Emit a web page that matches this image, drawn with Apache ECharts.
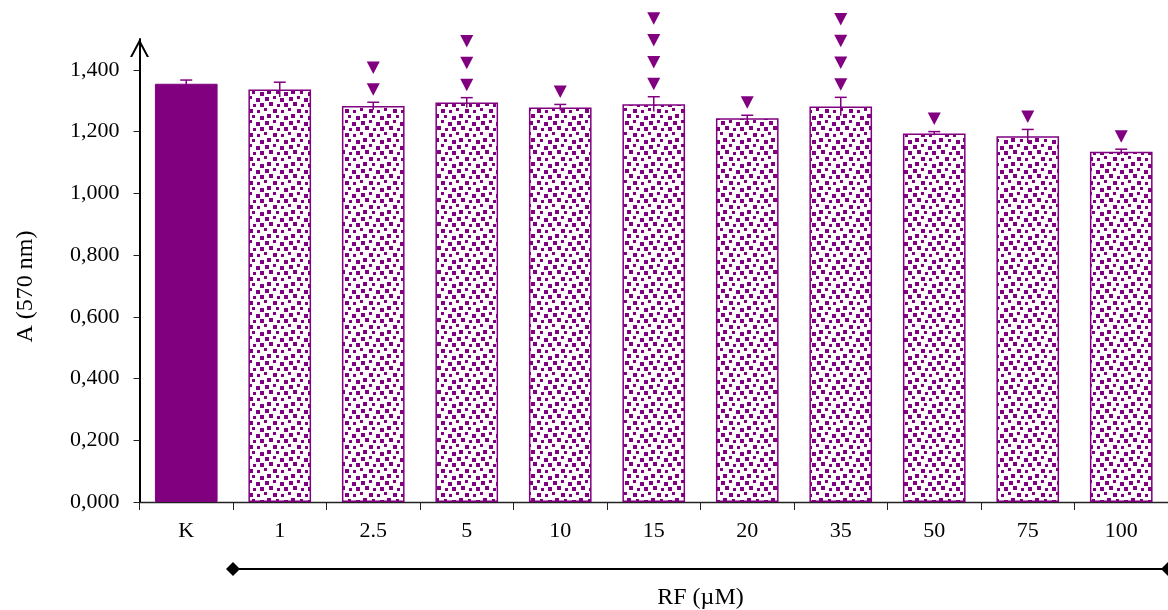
<!DOCTYPE html>
<html>
<head>
<meta charset="utf-8">
<script src="https://cdn.jsdelivr.net/npm/echarts@6/dist/echarts.min.js"></script>
<style>
html,body{margin:0;padding:0;background:#fff;}
#chart{width:1168px;height:610px;}
</style>
</head>
<body>
<div id="chart"></div>
<script>
// ---- data ----
var categories = ['K', '1', '2.5', '5', '10', '15', '20', '35', '50', '75', '100'];
var values = [1.355, 1.336, 1.283, 1.294, 1.278, 1.289, 1.243, 1.281, 1.194, 1.185, 1.135];
var errors = [0.012, 0.024, 0.012, 0.016, 0.010, 0.024, 0.010, 0.030, 0.006, 0.022, 0.008];
var markCounts = [0, 0, 2, 3, 1, 4, 1, 4, 1, 1, 1];
var yTicks = [0, 0.2, 0.4, 0.6, 0.8, 1.0, 1.2, 1.4];
var yAxisName = 'A (570 nm)';
var xAxisName = 'RF (\u00B5M)';

var PURPLE = '#800080';
var FONT = '"Liberation Serif", "Times New Roman", serif';

// confetti pattern tile
function makePattern() {
  var c = document.createElement('canvas');
  c.width = 24; c.height = 24;
  var g = c.getContext('2d');
  g.fillStyle = '#fff';
  g.fillRect(0, 0, 24, 24);
  g.fillStyle = PURPLE;
  var sq = [[1, 1, 4], [9, 0, 3], [16, 2, 4], [5, 6, 4], [13, 8, 3], [20, 7, 4],
            [0, 12, 3], [9, 13, 4], [17, 14, 3], [3, 18, 4], [12, 19, 3], [20, 20, 4]];
  sq.forEach(function (s) { g.fillRect(s[0], s[1], s[2], s[2]); });
  return c;
}
var pattern = { image: makePattern(), repeat: 'repeat' };

var barData = values.map(function (v, i) {
  return {
    value: v,
    itemStyle: i === 0
      ? { color: PURPLE, borderColor: PURPLE, borderWidth: 1 }
      : { color: pattern, borderColor: PURPLE, borderWidth: 1.5 }
  };
});
var errData = values.map(function (v, i) { return [i, v, errors[i], markCounts[i]]; });

var chart = echarts.init(document.getElementById('chart'), null, { renderer: 'canvas' });
chart.setOption({
  animation: false,
  backgroundColor: '#fff',
  grid: { left: 139.5, right: -4.5, top: 39, bottom: 108, containLabel: false },
  xAxis: {
    type: 'category',
    data: categories,
    axisLine: { lineStyle: { color: '#222', width: 1.3 } },
    axisTick: { show: true, interval: 0, length: 8, alignWithLabel: false, lineStyle: { color: '#222', width: 1 } },
    axisLabel: { interval: 0, margin: 18, color: '#000', fontFamily: FONT, fontSize: 22 },
    splitLine: { show: false }
  },
  yAxis: {
    type: 'value',
    min: 0,
    max: 1.5,
    interval: 0.2,
    name: yAxisName,
    nameLocation: 'middle',
    nameGap: 102,
    nameTextStyle: { color: '#000', fontFamily: FONT, fontSize: 24, padding: [0, 32, 0, 0] },
    axisLine: {
      show: true,
      lineStyle: { color: '#000', width: 2 },
      symbol: ['none', 'path://M0,18 L9.5,0 L19,18 L16.8,18 L9.5,4.2 L2.2,18 Z'],
      symbolSize: [19, 18],
      symbolOffset: [0, -9]
    },
    axisTick: { show: true, length: 6, customValues: yTicks, lineStyle: { color: '#222', width: 1 } },
    axisLabel: {
      margin: 20, color: '#000', fontFamily: FONT, fontSize: 22,
      customValues: yTicks,
      formatter: function (v) { return v.toFixed(3).replace('.', ','); }
    },
    splitLine: { show: false }
  },
  series: [
    {
      type: 'bar',
      data: barData,
      barWidth: '67%',
      silent: true
    },
    {
      type: 'custom',
      data: errData,
      silent: true,
      z: 5,
      encode: { x: 0, y: 1 },
      renderItem: function (params, api) {
        var i = api.value(0), v = api.value(1), e = api.value(2), n = api.value(3);
        var top = api.coord([i, v + e]);
        var bot = api.coord([i, v - e]);
        var children = [
          { type: 'line', shape: { x1: top[0], y1: top[1], x2: bot[0], y2: bot[1] }, style: { stroke: PURPLE, lineWidth: 1.5 } },
          { type: 'line', shape: { x1: top[0] - 6, y1: top[1], x2: top[0] + 6, y2: top[1] }, style: { stroke: PURPLE, lineWidth: 1.5 } }
        ];
        for (var k = 0; k < n; k++) {
          var cy = top[1] - 13 - 21.8 * k;
          children.push({
            type: 'polygon',
            shape: { points: [[top[0] - 6.5, cy - 6], [top[0] + 6.5, cy - 6], [top[0], cy + 6.5]] },
            style: { fill: PURPLE }
          });
        }
        return { type: 'group', children: children };
      }
    },
    {
      type: 'custom',
      data: [[0, 0]],
      silent: true,
      clip: false,
      renderItem: function (params, api) {
        var bw = api.size([1, 0])[0];
        var p0 = api.coord([0, 0]);
        var pN = api.coord([categories.length - 1, 0]);
        var x1 = p0[0] + bw / 2, x2 = pN[0] + bw / 2;
        var y = p0[1] + 67;
        function diamond(cx) {
          return { type: 'polygon', shape: { points: [[cx - 7, y], [cx, y - 7], [cx + 7, y], [cx, y + 7]] }, style: { fill: '#000' } };
        }
        return {
          type: 'group',
          children: [
            { type: 'line', shape: { x1: x1, y1: y, x2: x2, y2: y }, style: { stroke: '#000', lineWidth: 2.2 } },
            diamond(x1), diamond(x2),
            { type: 'text', style: { text: xAxisName, x: (x1 + x2) / 2, y: y + 29, align: 'center', verticalAlign: 'middle', fill: '#000', fontFamily: FONT, fontSize: 24 } }
          ]
        };
      }
    }
  ]
});
</script>
</body>
</html>
